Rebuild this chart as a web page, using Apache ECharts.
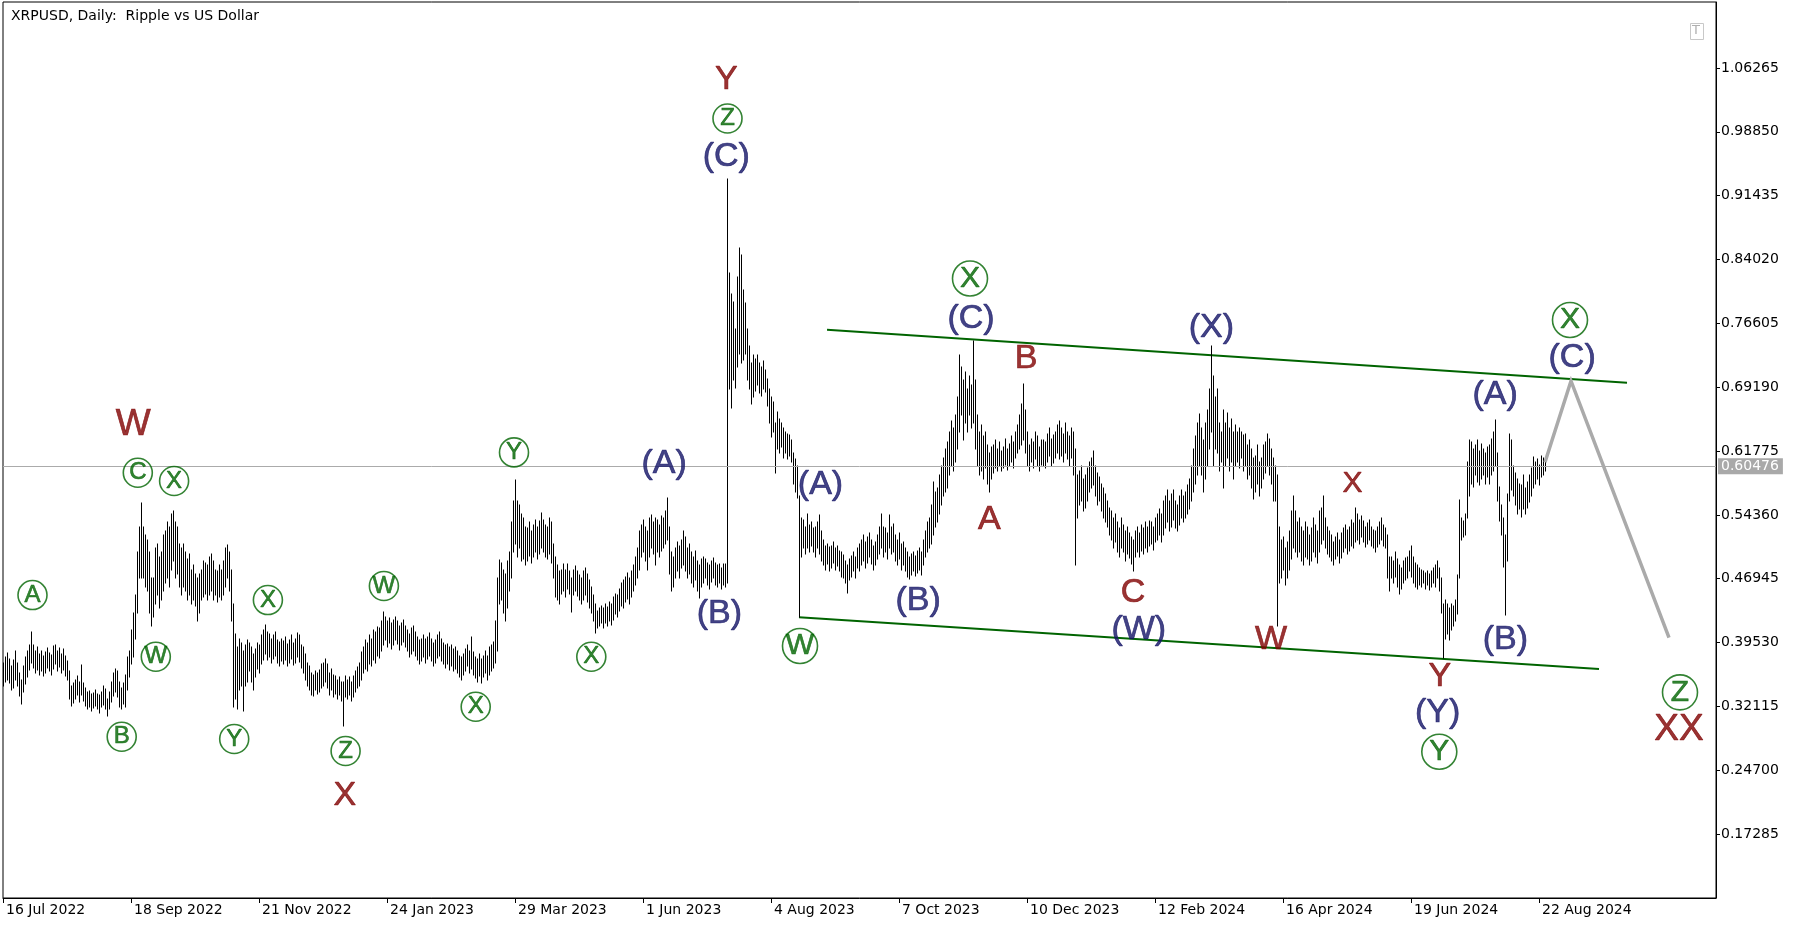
<!DOCTYPE html>
<html><head><meta charset="utf-8">
<script src="https://cdn.jsdelivr.net/npm/echarts@6/dist/echarts.min.js"></script>
<style>html,body{margin:0;padding:0;background:#fff}#c{width:1802px;height:927px}</style>
</head><body><div id="c"></div>
<script>
const titleText = 'XRPUSD, Daily:  Ripple vs US Dollar';
const dateLabels = ['16 Jul 2022','18 Sep 2022','21 Nov 2022','24 Jan 2023','29 Mar 2023','1 Jun 2023','4 Aug 2023','7 Oct 2023','10 Dec 2023','12 Feb 2024','16 Apr 2024','19 Jun 2024','22 Aug 2024'];
const dateTickIndex = [0,64,128,192,256,320,384,448,512,576,640,704,768];
const priceTicks = [0.17285,0.24700,0.32115,0.39530,0.46945,0.54360,0.61775,0.69190,0.76605,0.84020,0.91435,0.98850,1.06265];
const priceMin = 0.0987, priceMax = 1.13923, priceStep = 0.07415;
const dayMax = 856.5;
const lastPrice = 0.60476;

const lows = [
0.345,0.350,0.352,0.348,0.340,0.343,0.352,0.345,0.333,0.324,
0.338,0.347,0.355,0.363,0.372,0.366,0.360,0.364,0.358,0.362,
0.356,0.360,0.366,0.362,0.358,0.365,0.370,0.362,0.367,0.360,
0.364,0.357,0.352,0.330,0.322,0.325,0.330,0.334,0.326,0.334,
0.328,0.322,0.318,0.320,0.316,0.319,0.322,0.318,0.314,0.320,
0.323,0.318,0.310,0.318,0.326,0.333,0.338,0.332,0.320,0.318,
0.324,0.321,0.340,0.355,0.370,0.378,0.400,0.430,0.470,0.470,
0.470,0.460,0.455,0.430,0.414,0.425,0.440,0.450,0.435,0.445,
0.455,0.465,0.470,0.460,0.480,0.490,0.470,0.475,0.460,0.450,
0.460,0.455,0.445,0.450,0.440,0.445,0.438,0.420,0.430,0.445,
0.448,0.452,0.445,0.450,0.455,0.445,0.450,0.442,0.448,0.445,
0.450,0.460,0.470,0.455,0.420,0.320,0.330,0.318,0.340,0.345,
0.316,0.345,0.350,0.362,0.350,0.340,0.355,0.365,0.360,0.370,
0.375,0.382,0.375,0.378,0.372,0.376,0.380,0.372,0.368,0.374,
0.370,0.375,0.368,0.372,0.376,0.369,0.372,0.378,0.373,0.366,
0.360,0.352,0.345,0.340,0.335,0.333,0.340,0.336,0.338,0.342,
0.345,0.350,0.342,0.335,0.340,0.332,0.336,0.330,0.334,0.328,
0.299,0.332,0.330,0.335,0.328,0.332,0.338,0.342,0.345,0.352,
0.360,0.365,0.362,0.370,0.368,0.375,0.372,0.380,0.377,0.385,
0.392,0.398,0.390,0.395,0.388,0.392,0.398,0.394,0.387,0.392,
0.396,0.390,0.385,0.378,0.382,0.386,0.380,0.375,0.370,0.374,
0.378,0.372,0.376,0.380,0.374,0.368,0.372,0.377,0.380,0.374,
0.370,0.366,0.370,0.364,0.368,0.362,0.365,0.360,0.355,0.352,
0.358,0.362,0.368,0.360,0.365,0.358,0.354,0.350,0.356,0.348,
0.355,0.360,0.352,0.358,0.362,0.366,0.372,0.385,0.440,0.445,
0.430,0.420,0.435,0.455,0.470,0.500,0.510,0.495,0.505,0.490,
0.492,0.485,0.490,0.496,0.488,0.495,0.500,0.492,0.498,0.505,
0.500,0.495,0.492,0.498,0.488,0.470,0.448,0.445,0.440,0.452,
0.455,0.448,0.458,0.452,0.431,0.450,0.455,0.449,0.445,0.440,
0.445,0.450,0.442,0.436,0.430,0.420,0.407,0.412,0.415,0.418,
0.412,0.418,0.414,0.420,0.416,0.422,0.428,0.425,0.432,0.438,
0.435,0.442,0.446,0.440,0.448,0.455,0.462,0.470,0.480,0.495,
0.500,0.490,0.480,0.495,0.505,0.498,0.485,0.500,0.495,0.502,
0.505,0.510,0.515,0.475,0.455,0.460,0.470,0.478,0.470,0.482,
0.485,0.478,0.470,0.475,0.465,0.460,0.468,0.455,0.447,0.460,
0.465,0.470,0.462,0.458,0.466,0.470,0.462,0.460,0.465,0.458,
0.462,0.460,0.465,0.690,0.668,0.700,0.691,0.715,0.730,0.720,
0.724,0.730,0.700,0.690,0.672,0.680,0.688,0.695,0.685,0.682,
0.690,0.686,0.670,0.650,0.634,0.640,0.592,0.620,0.615,0.622,
0.610,0.615,0.608,0.612,0.605,0.580,0.570,0.563,0.425,0.495,
0.505,0.498,0.505,0.500,0.508,0.500,0.495,0.505,0.498,0.490,
0.485,0.480,0.486,0.478,0.482,0.488,0.480,0.484,0.478,0.472,
0.470,0.465,0.453,0.468,0.472,0.478,0.470,0.482,0.478,0.485,
0.490,0.482,0.488,0.495,0.486,0.480,0.485,0.492,0.498,0.505,
0.495,0.500,0.492,0.505,0.498,0.500,0.490,0.485,0.492,0.480,
0.485,0.478,0.472,0.469,0.474,0.478,0.473,0.476,0.480,0.474,
0.485,0.495,0.500,0.505,0.510,0.520,0.530,0.535,0.545,0.555,
0.565,0.570,0.575,0.590,0.600,0.595,0.605,0.620,0.640,0.660,
0.630,0.650,0.640,0.660,0.645,0.650,0.620,0.600,0.590,0.595,
0.585,0.598,0.580,0.570,0.585,0.592,0.598,0.595,0.600,0.594,
0.598,0.602,0.596,0.600,0.605,0.598,0.610,0.615,0.620,0.625,
0.630,0.615,0.600,0.595,0.605,0.598,0.608,0.600,0.595,0.602,
0.600,0.598,0.605,0.612,0.600,0.604,0.610,0.615,0.608,0.612,
0.605,0.615,0.608,0.600,0.610,0.590,0.485,0.540,0.555,0.560,
0.548,0.552,0.560,0.570,0.575,0.578,0.565,0.555,0.560,0.548,
0.540,0.535,0.530,0.520,0.515,0.505,0.512,0.500,0.495,0.505,
0.500,0.490,0.498,0.493,0.486,0.479,0.495,0.500,0.495,0.502,
0.498,0.505,0.500,0.508,0.510,0.503,0.512,0.515,0.520,0.512,
0.520,0.528,0.535,0.525,0.530,0.538,0.528,0.525,0.532,0.540,
0.535,0.540,0.545,0.550,0.560,0.570,0.580,0.590,0.600,0.590,
0.570,0.585,0.600,0.620,0.640,0.600,0.620,0.615,0.595,0.605,
0.575,0.600,0.610,0.595,0.605,0.585,0.600,0.605,0.598,0.610,
0.595,0.600,0.585,0.590,0.575,0.562,0.570,0.580,0.565,0.575,
0.585,0.592,0.600,0.590,0.580,0.560,0.560,0.414,0.465,0.470,
0.480,0.462,0.470,0.480,0.492,0.505,0.500,0.495,0.500,0.490,
0.485,0.495,0.492,0.485,0.490,0.500,0.495,0.488,0.500,0.510,
0.515,0.505,0.498,0.495,0.490,0.485,0.492,0.496,0.488,0.494,
0.500,0.505,0.498,0.502,0.508,0.505,0.512,0.515,0.510,0.518,
0.512,0.506,0.510,0.515,0.508,0.505,0.500,0.506,0.510,0.515,
0.508,0.505,0.470,0.455,0.470,0.465,0.472,0.460,0.452,0.458,
0.465,0.468,0.470,0.478,0.472,0.465,0.460,0.458,0.462,0.460,
0.465,0.458,0.462,0.456,0.460,0.465,0.460,0.470,0.455,0.430,
0.377,0.400,0.405,0.398,0.410,0.415,0.420,0.429,0.470,0.514,
0.518,0.520,0.540,0.565,0.580,0.576,0.590,0.582,0.578,0.585,
0.590,0.580,0.588,0.580,0.590,0.595,0.600,0.560,0.537,0.520,
0.483,0.427,0.490,0.560,0.572,0.565,0.555,0.545,0.550,0.541,
0.550,0.545,0.552,0.558,0.565,0.575,0.580,0.585,0.578,0.588,
0.590,0.595
];
const highs = [
0.372,0.378,0.383,0.376,0.368,0.375,0.386,0.372,0.360,0.352,
0.368,0.379,0.385,0.393,0.408,0.392,0.385,0.390,0.382,0.385,
0.380,0.384,0.389,0.383,0.381,0.391,0.393,0.386,0.389,0.382,
0.388,0.380,0.374,0.362,0.345,0.348,0.352,0.356,0.350,0.369,
0.348,0.342,0.338,0.339,0.336,0.337,0.340,0.336,0.334,0.338,
0.345,0.341,0.330,0.338,0.350,0.360,0.365,0.362,0.350,0.342,
0.348,0.358,0.378,0.385,0.410,0.430,0.450,0.500,0.530,0.557,
0.530,0.520,0.515,0.500,0.470,0.470,0.505,0.510,0.495,0.500,
0.520,0.525,0.535,0.530,0.545,0.548,0.535,0.530,0.510,0.505,
0.510,0.500,0.492,0.498,0.480,0.485,0.475,0.470,0.475,0.480,
0.490,0.488,0.485,0.495,0.498,0.490,0.480,0.478,0.485,0.480,
0.490,0.505,0.509,0.500,0.480,0.440,0.405,0.390,0.400,0.395,
0.385,0.392,0.398,0.395,0.390,0.382,0.388,0.395,0.392,0.404,
0.410,0.416,0.408,0.405,0.400,0.404,0.408,0.398,0.396,0.400,
0.397,0.402,0.394,0.398,0.404,0.395,0.400,0.406,0.404,0.393,
0.390,0.382,0.372,0.368,0.360,0.358,0.362,0.360,0.364,0.370,
0.372,0.376,0.370,0.360,0.365,0.358,0.356,0.352,0.355,0.350,
0.350,0.357,0.352,0.355,0.350,0.356,0.362,0.367,0.372,0.384,
0.390,0.398,0.395,0.404,0.400,0.410,0.408,0.413,0.412,0.420,
0.431,0.425,0.420,0.424,0.418,0.422,0.425,0.420,0.415,0.418,
0.421,0.415,0.410,0.405,0.412,0.415,0.408,0.402,0.398,0.400,
0.404,0.400,0.402,0.406,0.400,0.395,0.398,0.404,0.408,0.400,
0.395,0.392,0.394,0.390,0.392,0.388,0.390,0.386,0.380,0.378,
0.382,0.388,0.392,0.385,0.402,0.384,0.378,0.376,0.382,0.376,
0.380,0.386,0.380,0.390,0.392,0.396,0.420,0.470,0.491,0.488,
0.480,0.475,0.490,0.500,0.535,0.560,0.584,0.560,0.555,0.545,
0.540,0.530,0.528,0.535,0.525,0.532,0.538,0.530,0.536,0.546,
0.538,0.532,0.530,0.540,0.535,0.510,0.495,0.485,0.478,0.480,
0.487,0.480,0.486,0.478,0.470,0.480,0.484,0.478,0.474,0.470,
0.478,0.482,0.475,0.468,0.460,0.450,0.440,0.432,0.435,0.438,
0.436,0.440,0.437,0.442,0.440,0.448,0.452,0.450,0.458,0.465,
0.468,0.472,0.476,0.470,0.478,0.485,0.495,0.505,0.525,0.532,
0.538,0.530,0.525,0.540,0.544,0.535,0.540,0.538,0.532,0.542,
0.540,0.548,0.563,0.530,0.500,0.495,0.505,0.512,0.508,0.515,
0.525,0.518,0.505,0.510,0.500,0.495,0.502,0.490,0.485,0.492,
0.495,0.492,0.488,0.485,0.490,0.494,0.488,0.485,0.487,0.482,
0.486,0.487,0.934,0.824,0.800,0.791,0.760,0.820,0.853,0.845,
0.805,0.790,0.760,0.740,0.720,0.729,0.725,0.729,0.720,0.715,
0.722,0.712,0.701,0.690,0.680,0.675,0.650,0.663,0.655,0.650,
0.645,0.640,0.638,0.636,0.630,0.615,0.608,0.600,0.565,0.540,
0.538,0.530,0.545,0.532,0.535,0.528,0.530,0.535,0.544,0.525,
0.515,0.508,0.510,0.506,0.508,0.512,0.505,0.508,0.502,0.500,
0.497,0.490,0.485,0.492,0.496,0.500,0.495,0.505,0.510,0.515,
0.520,0.512,0.518,0.522,0.515,0.508,0.512,0.520,0.530,0.545,
0.530,0.528,0.522,0.544,0.530,0.533,0.520,0.515,0.522,0.510,
0.512,0.505,0.500,0.495,0.498,0.500,0.496,0.502,0.505,0.500,
0.515,0.525,0.535,0.540,0.555,0.582,0.570,0.575,0.590,0.600,
0.610,0.620,0.628,0.640,0.653,0.645,0.660,0.680,0.729,0.715,
0.700,0.710,0.690,0.705,0.695,0.746,0.700,0.660,0.640,0.648,
0.635,0.640,0.625,0.615,0.622,0.625,0.630,0.620,0.628,0.618,
0.622,0.632,0.620,0.626,0.635,0.628,0.640,0.648,0.660,0.672,
0.696,0.665,0.640,0.625,0.632,0.628,0.640,0.635,0.622,0.630,
0.630,0.628,0.638,0.645,0.632,0.636,0.640,0.648,0.653,0.645,
0.638,0.650,0.640,0.635,0.645,0.640,0.620,0.590,0.595,0.600,
0.585,0.590,0.598,0.605,0.610,0.618,0.600,0.592,0.588,0.580,
0.575,0.568,0.560,0.552,0.548,0.540,0.545,0.535,0.528,0.540,
0.532,0.525,0.530,0.522,0.518,0.515,0.525,0.530,0.522,0.532,
0.528,0.535,0.530,0.537,0.535,0.530,0.540,0.545,0.550,0.545,
0.560,0.565,0.572,0.560,0.568,0.572,0.560,0.555,0.565,0.572,
0.565,0.570,0.578,0.585,0.600,0.620,0.635,0.650,0.661,0.645,
0.630,0.650,0.665,0.690,0.740,0.705,0.680,0.690,0.650,0.640,
0.665,0.650,0.662,0.645,0.655,0.640,0.648,0.640,0.645,0.640,
0.636,0.638,0.625,0.630,0.620,0.610,0.612,0.625,0.605,0.610,
0.625,0.628,0.638,0.632,0.620,0.610,0.600,0.590,0.530,0.515,
0.518,0.505,0.512,0.525,0.548,0.566,0.548,0.535,0.540,0.530,
0.525,0.535,0.530,0.520,0.528,0.540,0.532,0.525,0.548,0.552,
0.566,0.540,0.530,0.525,0.520,0.512,0.518,0.522,0.515,0.522,
0.528,0.532,0.526,0.530,0.538,0.534,0.552,0.545,0.538,0.542,
0.536,0.530,0.534,0.538,0.530,0.526,0.525,0.530,0.535,0.540,
0.532,0.528,0.520,0.495,0.495,0.490,0.500,0.492,0.485,0.482,
0.490,0.493,0.495,0.502,0.508,0.495,0.488,0.485,0.482,0.480,
0.478,0.476,0.479,0.475,0.478,0.482,0.485,0.490,0.482,0.470,
0.440,0.445,0.440,0.435,0.440,0.438,0.445,0.474,0.561,0.540,
0.537,0.545,0.605,0.630,0.628,0.620,0.625,0.630,0.618,0.626,
0.620,0.615,0.622,0.625,0.632,0.640,0.654,0.615,0.576,0.555,
0.540,0.520,0.568,0.638,0.630,0.600,0.592,0.585,0.580,0.578,
0.590,0.575,0.582,0.590,0.598,0.611,0.605,0.608,0.602,0.612,
0.610,0.610
];

// wave projection and channel (day index, price)
const projDays = [771, 784, 833];
const projPrices = [0.60476, 0.6991, 0.4012];
const upperDays = [412, 812], upperPrices = [0.7585, 0.6971];
const lowerDays = [398, 798], lowerPrices = [0.4246, 0.3646];

// wave labels: [day index, price, text]
const greenCircSmall = [[14.75,0.4505,'A'],[59.35,0.2860,'B'],[67.4,0.5926,'C'],[85.55,0.5829,'X'],[76.4,0.3789,'W'],[115.6,0.2833,'Y'],[132.45,0.4447,'X'],[171.3,0.2694,'Z'],[190.45,0.4610,'W'],[236.35,0.3208,'X'],[255.5,0.6162,'Y'],[294.15,0.3789,'X'],[362.25,1.0039,'Z']];
const greenCircLarge = [[398.5,0.3913,'W'],[483.5,0.8182,'X'],[783.5,0.7699,'X'],[718.15,0.2686,'Y'],[838.5,0.3375,'Z']];
const redWave = [[361.65,1.0494,'Y'],[511.6,0.7252,'B'],[493.2,0.5383,'A'],[565.05,0.4529,'C'],[634,0.3982,'W'],[718.45,0.3554,'Y'],[170.9,0.2180,'X']];
const redWaveBig = [[65.15,0.6477,'W'],[838,0.2941,'XX']];
const redWaveSmall = [[674.8,0.5797,'X']];
const navyWave = [[330.6,0.6037,'(A)'],[358.2,0.4288,'(B)'],[361.65,0.9600,'(C)'],[408.75,0.5783,'(A)'],[457.6,0.4436,'(B)'],[484,0.7719,'(C)'],[567.9,0.4101,'(W)'],[604.15,0.7612,'(X)'],[746.05,0.6837,'(A)'],[751.2,0.3982,'(B)'],[717.3,0.3141,'(Y)'],[784.55,0.7265,'(C)']];

const FONT = 'Liberation Sans, Arial, sans-serif';
const AXFONT = 'DejaVu Sans, sans-serif';
const RED = '#800000', NAVY = '#141466', GREEN = '#006400';

function textSeries(items, color, size) {
  return {
    type: 'scatter', silent: true, z: 6, symbolSize: 1,
    itemStyle: { color: 'rgba(0,0,0,0)' },
    data: items.map(d => ({ value: [d[0], d[1]], name: d[2] })),
    label: { show: true, position: 'inside', formatter: p => p.name, color: color, fontSize: size, fontFamily: FONT,
             textBorderColor: color, textBorderWidth: 0.7 }
  };
}
function circleSeries(items, diam, size) {
  return {
    type: 'scatter', silent: true, z: 6, symbol: 'circle', symbolSize: diam,
    itemStyle: { color: 'rgba(255,255,255,0)', borderColor: GREEN, borderWidth: 1.6 },
    data: items.map(d => ({ value: [d[0], d[1]], name: d[2] })),
    label: { show: true, position: 'inside', formatter: p => p.name, color: GREEN, fontSize: size, fontFamily: FONT,
             textBorderColor: GREEN, textBorderWidth: 0.6 }
  };
}
const zip = (a, b) => a.map((v, i) => [v, b[i]]);

const chart = echarts.init(document.getElementById('c'), null, { renderer: 'canvas' });
const bars = lows.map((l, i) => [i, l, highs[i]]);

chart.setOption({
  animation: false,
  backgroundColor: '#ffffff',
  title: { text: titleText, left: 6, top: 4, textStyle: { fontFamily: AXFONT, fontSize: 14, fontWeight: 'normal', color: '#000' } },
  grid: { left: 3, right: 86, top: 2, bottom: 29, show: true, borderColor: '#000', borderWidth: 1, backgroundColor: 'rgba(0,0,0,0)' },
  xAxis: {
    type: 'value', min: 0, max: dayMax, interval: 64,
    axisLine: { show: true, onZero: false, lineStyle: { color: '#000', width: 1 } },
    axisTick: { show: true, length: 5, customValues: dateTickIndex, lineStyle: { color: '#000' } },
    splitLine: { show: false },
    axisLabel: {
      customValues: dateTickIndex,
      formatter: v => dateLabels[dateTickIndex.indexOf(Math.round(v))] || '',
      align: 'left', margin: 5, padding: [0, 0, 0, 3],
      fontFamily: AXFONT, fontSize: 14, color: '#000'
    }
  },
  yAxis: {
    type: 'value', position: 'right', min: priceMin, max: priceMax, interval: priceStep,
    axisLine: { show: true, onZero: false, lineStyle: { color: '#000', width: 1 } },
    axisTick: { show: true, length: 4, customValues: priceTicks, lineStyle: { color: '#000' } },
    splitLine: { show: false },
    axisLabel: {
      customValues: priceTicks,
      formatter: v => (v < 0.12 || v > 1.1) ? '' : v.toFixed(5),
      margin: 5, fontFamily: AXFONT, fontSize: 14, color: '#000'
    }
  },
  series: [
    {
      type: 'custom', z: 3, silent: true, clip: true,
      data: bars, encode: { x: 0, y: [1, 2] },
      renderItem: (params, api) => {
        const x = api.value(0);
        const lo = api.coord([x, api.value(1)]);
        const hi = api.coord([x, api.value(2)]);
        const px = Math.round(lo[0]) + 0.5;
        return { type: 'line', shape: { x1: px, y1: Math.round(lo[1]) + 0.5, x2: px, y2: Math.round(hi[1]) - 0.5 }, style: { stroke: '#000', lineWidth: 1 } };
      }
    },
    {
      type: 'line', z: 2, silent: true, symbol: 'none',
      data: zip(upperDays, upperPrices),
      lineStyle: { color: GREEN, width: 2 },
      markLine: {
        silent: true, symbol: 'none', animation: false,
        lineStyle: { color: '#ababab', width: 1, type: 'solid' },
        label: { show: true, position: 'end', distance: 2, formatter: lastPrice.toFixed(5), backgroundColor: '#a9a9a9', color: '#fff', padding: [1, 4, 1, 3], fontFamily: AXFONT, fontSize: 14 },
        data: [{ yAxis: lastPrice }]
      }
    },
    { type: 'line', z: 2, silent: true, symbol: 'none', data: zip(lowerDays, lowerPrices), lineStyle: { color: GREEN, width: 2 } },
    { type: 'line', z: 4, silent: true, symbol: 'none', data: zip(projDays, projPrices), lineStyle: { color: '#aaaaaa', width: 3.5, join: 'miter' } },
    circleSeries(greenCircSmall, 29, 24),
    circleSeries(greenCircLarge, 35, 30),
    textSeries(redWave, RED, 34),
    textSeries(redWaveBig, RED, 37),
    textSeries(redWaveSmall, RED, 30),
    textSeries(navyWave, NAVY, 34)
  ],
  graphic: [
    { type: 'rect', left: 1690, top: 23, shape: { width: 13, height: 16 }, style: { fill: '#fff', stroke: '#c8c8c8', lineWidth: 1 } },
    { type: 'text', left: 1692, top: 24, style: { text: 'T', fill: '#b0b0b0', font: '13px DejaVu Sans' } }
  ]
});
</script>
</body></html>
